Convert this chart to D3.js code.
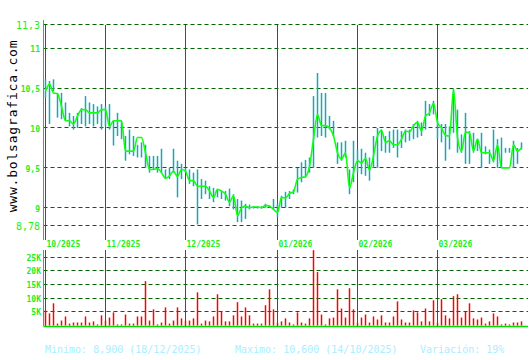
<!DOCTYPE html>
<html>
<head>
<meta charset="utf-8">
<script src="https://cdn.jsdelivr.net/npm/d3@7"></script>
<style>
  body { margin: 0; background: #fff; }
  text { font-family: "DejaVu Sans Mono", monospace; }
</style>
</head>
<body>
<svg width="530" height="360"></svg>
<script>
var closes = [10.46,10.55,10.44,10.43,10.27,10.09,10.09,10.05,10.15,10.23,
    10.23,10.19,10.19,10.19,10.23,10.23,10.02,10.09,10.09,10.09,
    9.71,9.71,9.71,9.88,9.88,9.69,9.48,9.48,9.49,9.44,
    9.37,9.40,9.46,9.39,9.48,9.46,9.34,9.34,9.27,9.27,
    9.27,9.21,9.13,9.23,9.21,9.17,9.07,9.15,8.90,9.00,
    9.02,9.00,9.01,9.01,9.00,9.03,9.02,8.98,8.94,9.13,
    9.12,9.18,9.20,9.36,9.38,9.39,9.52,9.86,10.17,10.03,
    10.03,10.00,9.90,9.69,9.61,9.69,9.25,9.44,9.59,9.56,
    9.62,9.47,9.65,9.90,9.97,9.82,9.84,9.79,9.79,9.86,
    9.96,9.95,10.03,10.07,9.96,10.15,10.19,10.31,10.07,10.00,
    9.91,9.90,10.48,9.88,9.71,9.95,9.94,9.71,9.86,9.69,
    9.69,9.69,9.59,9.79,9.50,9.50,9.50,9.79,9.71,9.75];

var highs = [10.61,10.59,10.61,10.44,10.44,10.32,10.19,10.15,10.19,10.25,
    10.40,10.32,10.30,10.27,10.30,10.27,10.30,10.09,10.19,10.09,
    9.90,9.98,9.90,9.79,9.82,9.79,9.65,9.65,9.65,9.74,
    9.48,9.50,9.74,9.59,9.55,9.50,9.48,9.44,9.48,9.36,
    9.34,9.27,9.25,9.23,9.21,9.21,9.24,9.17,9.11,9.09,
    9.05,9.04,9.02,9.02,9.02,9.05,9.03,9.11,9.05,9.15,
    9.20,9.21,9.23,9.50,9.57,9.60,9.63,10.40,10.69,10.44,
    10.44,10.15,10.09,9.82,9.82,9.84,9.48,9.84,9.73,9.74,
    9.69,9.63,9.90,10.00,9.98,9.90,9.96,9.98,9.98,9.96,
    9.98,9.98,10.05,10.09,10.07,10.34,10.30,10.34,10.11,10.05,
    10.05,10.02,10.49,10.23,9.92,10.19,9.96,9.94,9.86,9.94,
    9.77,9.73,9.98,9.86,9.88,9.75,9.75,9.84,9.75,9.82];

var lows = [10.38,10.05,10.46,10.13,10.11,10.09,10.02,9.98,10.00,10.05,
    10.02,10.05,10.02,10.05,9.98,10.02,9.98,9.78,9.90,9.86,
    9.59,9.67,9.65,9.63,9.63,9.50,9.44,9.48,9.44,9.44,
    9.36,9.36,9.44,9.13,9.36,9.44,9.30,9.27,8.79,9.11,
    9.17,9.11,9.07,9.13,9.11,9.09,9.02,8.98,8.82,8.82,
    8.86,8.98,8.99,8.99,8.99,9.00,9.00,8.98,8.88,9.00,
    9.00,9.11,9.17,9.19,9.32,9.38,9.44,9.50,9.88,9.90,
    9.88,9.98,9.90,9.55,9.59,9.63,9.17,9.32,9.44,9.42,
    9.40,9.34,9.50,9.50,9.71,9.69,9.69,9.75,9.63,9.75,
    9.82,9.84,9.86,9.88,9.90,9.98,10.15,10.17,9.86,9.82,
    9.59,9.73,9.94,9.69,9.69,9.55,9.55,9.69,9.71,9.50,
    9.67,9.55,9.57,9.50,9.50,9.69,9.69,9.50,9.55,9.73];

// volumen en miles
var volumes = [5.5,4.4,8.1,0.7,1.8,3.3,0.7,1.1,1.1,1.1,
    3.3,1.1,1.5,0.4,3.7,1.8,2.9,4.8,0.4,0.4,
    4.0,0.7,0.7,3.3,3.3,16.2,1.8,5.9,0.4,1.1,
    6.6,0.7,1.8,6.6,2.6,1.8,1.8,2.6,12.1,0.7,
    1.8,1.5,3.3,11.4,5.1,1.5,1.5,3.7,8.5,3.3,
    6.6,3.7,0.7,0.7,0.7,7.4,13.2,5.9,1.0,1.5,
    2.6,1.1,0.4,4.8,1.1,0.7,2.6,27.5,19.5,4.0,
    0.4,2.6,2.9,13.2,6.2,2.9,13.6,5.9,1.0,2.9,
    4.0,1.1,3.3,2.2,3.7,1.1,1.1,3.3,8.8,2.2,
    1.1,1.1,5.5,4.8,1.5,6.2,1.5,9.2,1.0,9.6,
    3.7,2.6,10.7,11.4,2.9,5.1,8.1,2.6,2.2,2.9,
    0.7,1.5,4.4,3.3,0.4,0.7,0.4,1.1,1.1,1.5];

var monthIdx = [0, 15, 35, 58, 78, 98];
var monthLabels = ["10/2025", "11/2025", "12/2025", "01/2026", "02/2026", "03/2026"];

var priceTicks = [11.3, 11, 10.5, 10, 9.5, 9, 8.78];
var priceTickLabels = ["11,3", "11", "10,5", "10", "9,5", "9", "8,78"];
var volTicks = [5, 10, 15, 20, 25];
var volTickLabels = ["5K", "10K", "15K", "20K", "25K"];

var footer = ["Minimo: 8,900 (18/12/2025)", "Maximo: 10,600 (14/10/2025)", "Variación: 19%"];

var svg = d3.select("svg");
var left = 43.5, right = 528;

var x = d3.scaleLinear().domain([0, closes.length - 1]).range([45.5, 45.5 + 4 * (closes.length - 1)]);
var y = d3.scaleLinear().domain([8.78, 11.3]).range([225.3, 24.3]);
var yv = d3.scaleLinear().domain([0, 25]).range([325.5, 257]);

function crisp(v) { return Math.round(v - 0.5) + 0.5; }

// rejilla precio
svg.append("g").selectAll("line")
    .data(priceTicks)
    .enter().append("line")
    .attr("x1", left).attr("x2", right)
    .attr("y1", function(d) { return crisp(y(d)); })
    .attr("y2", function(d) { return crisp(y(d)); })
    .attr("stroke", "#006400")
    .attr("stroke-dasharray", "4,3");

svg.append("g").selectAll("text")
    .data(priceTicks)
    .enter().append("text")
    .attr("x", 40)
    .attr("y", function(d) { return y(d) + 1.5; })
    .attr("text-anchor", "end")
    .attr("dominant-baseline", "middle")
    .attr("fill", "#22ee22")
    .style("font-size", function(d, i) { return (i === 0 || i === priceTicks.length - 1) ? "10px" : "8px"; })
    .style("font-weight", function(d, i) { return (i === 0 || i === priceTicks.length - 1) ? "normal" : "bold"; })
    .text(function(d, i) { return priceTickLabels[i]; });

// rejilla volumen
svg.append("g").selectAll("line")
    .data(volTicks)
    .enter().append("line")
    .attr("x1", left).attr("x2", right)
    .attr("y1", function(d) { return crisp(yv(d)); })
    .attr("y2", function(d) { return crisp(yv(d)); })
    .attr("stroke", "#006400")
    .attr("stroke-dasharray", "4,3");

svg.append("g").selectAll("text")
    .data(volTicks)
    .enter().append("text")
    .attr("x", 41)
    .attr("y", function(d) { return yv(d) + 1; })
    .attr("text-anchor", "end")
    .attr("dominant-baseline", "middle")
    .attr("fill", "#22ee22")
    .style("font-size", "8px")
    .style("font-weight", "bold")
    .text(function(d, i) { return volTickLabels[i]; });

// lineas de mes
var months = svg.append("g").selectAll("g")
    .data(monthIdx)
    .enter().append("g");

months.append("line")
    .attr("x1", function(d) { return x(d); })
    .attr("x2", function(d) { return x(d); })
    .attr("y1", 25).attr("y2", 240)
    .attr("stroke", "#008000");

months.append("line")
    .attr("x1", function(d) { return x(d); })
    .attr("x2", function(d) { return x(d); })
    .attr("y1", 250).attr("y2", 326)
    .attr("stroke", "#008000");

months.append("text")
    .attr("x", function(d) { return x(d) + 1; })
    .attr("y", 247)
    .attr("fill", "#22ee22")
    .style("font-size", "8px")
    .style("font-weight", "bold")
    .text(function(d, i) { return monthLabels[i]; });

// ejes
svg.append("line").attr("x1", left).attr("x2", left).attr("y1", 20).attr("y2", 240).attr("stroke", "#00dd00");
svg.append("line").attr("x1", left).attr("x2", left).attr("y1", 250).attr("y2", 326).attr("stroke", "#00dd00");
svg.append("line").attr("x1", left).attr("x2", right).attr("y1", 326.5).attr("y2", 326.5).attr("stroke", "#00dd00").attr("stroke-width", 1.5);

// maximos y minimos
svg.append("g").selectAll("line")
    .data(closes)
    .enter().append("line")
    .attr("x1", function(d, i) { return x(i); })
    .attr("x2", function(d, i) { return x(i); })
    .attr("y1", function(d, i) { return y(highs[i]); })
    .attr("y2", function(d, i) { return y(lows[i]); })
    .attr("stroke", "#17a8b8")
    .attr("stroke-width", 1.5);

var line = d3.line()
    .x(function(d, i) { return x(i); })
    .y(function(d) { return y(d); })
    .curve(d3.curveMonotoneX);

svg.append("path")
    .datum(closes)
    .attr("d", line)
    .attr("fill", "none")
    .attr("stroke", "#11ff11")
    .attr("stroke-width", 1.6);

// volumen
svg.append("g").selectAll("line")
    .data(volumes)
    .enter().append("line")
    .attr("x1", function(d, i) { return x(i); })
    .attr("x2", function(d, i) { return x(i); })
    .attr("y1", yv(0))
    .attr("y2", function(d) { return yv(d); })
    .attr("stroke", "#ff0000")
    .attr("stroke-width", 1.5);

// marca de agua
svg.append("text")
    .attr("transform", "translate(16.5,126) rotate(-90)")
    .attr("text-anchor", "middle")
    .attr("fill", "#000")
    .style("font-size", "13px")
    .style("letter-spacing", "0.8px")
    .text("www.bolsagrafica.com");

svg.append("g").selectAll("text")
    .data(footer)
    .enter().append("text")
    .attr("x", function(d, i) { return [45, 235, 420][i]; })
    .attr("y", 353)
    .attr("fill", "#aaeeff")
    .style("font-size", "10px")
    .text(function(d) { return d; });
</script>
</body>
</html>
